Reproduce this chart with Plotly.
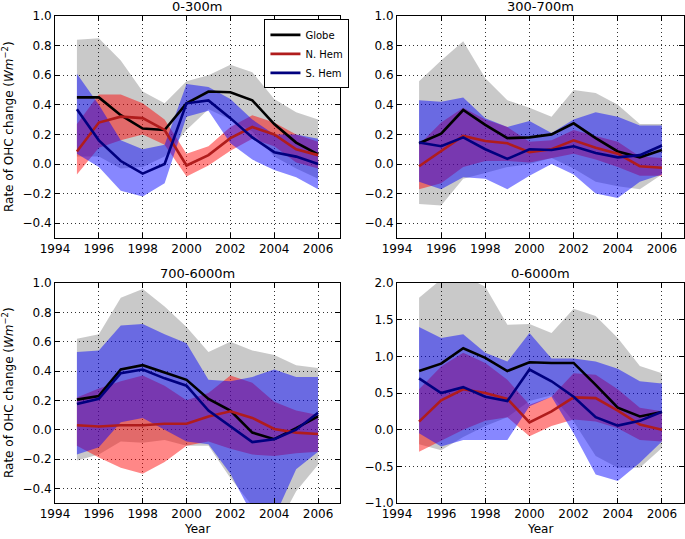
import plotly.graph_objects as go

years = [1995, 1996, 1997, 1998, 1999, 2000, 2001, 2002, 2003, 2004, 2005, 2006]

panel_titles = ["0-300m", "300-700m", "700-6000m", "0-6000m"]
series_names = ["Globe", "N. Hem", "S. Hem"]

# ---- 0-300m ----
p1_globe = [0.45, 0.45, 0.33, 0.24, 0.23, 0.41, 0.49, 0.485, 0.43, 0.27, 0.145, 0.065]
p1_globe_hi = [0.84, 0.85, 0.70, 0.49, 0.41, 0.56, 0.60, 0.67, 0.62, 0.44, 0.35, 0.30]
p1_globe_lo = [0.05, 0.05, -0.03, -0.02, 0.05, 0.23, 0.37, 0.30, 0.22, 0.05, -0.03, -0.10]
p1_nh = [0.085, 0.28, 0.32, 0.31, 0.23, -0.01, 0.06, 0.175, 0.25, 0.20, 0.10, 0.06]
p1_nh_hi = [0.27, 0.47, 0.47, 0.41, 0.30, 0.07, 0.12, 0.25, 0.33, 0.28, 0.20, 0.15]
p1_nh_lo = [-0.07, 0.11, 0.16, 0.20, 0.13, -0.085, -0.01, 0.09, 0.17, 0.12, 0.01, -0.03]
p1_sh = [0.37, 0.16, 0.02, -0.065, 0.0, 0.41, 0.43, 0.31, 0.18, 0.08, 0.05, 0.0]
p1_sh_hi = [0.61, 0.40, 0.16, 0.10, 0.13, 0.54, 0.52, 0.44, 0.30, 0.20, 0.20, 0.17]
p1_sh_lo = [0.07, -0.02, -0.18, -0.22, -0.13, 0.32, 0.36, 0.14, 0.03, -0.04, -0.09, -0.17]

# ---- 300-700m ----
p2_globe = [0.14, 0.205, 0.365, 0.265, 0.175, 0.18, 0.20, 0.275, 0.175, 0.085, 0.045, 0.095]
p2_globe_hi = [0.56, 0.70, 0.83, 0.58, 0.43, 0.38, 0.32, 0.50, 0.48, 0.40, 0.27, 0.27]
p2_globe_lo = [-0.27, -0.28, -0.10, -0.06, -0.02, 0.0, 0.04, -0.03, -0.12, -0.15, -0.17, -0.07]
p2_nh = [-0.015, 0.085, 0.19, 0.155, 0.14, 0.08, 0.10, 0.16, 0.11, 0.07, -0.015, -0.025]
p2_nh_hi = [0.13, 0.28, 0.38, 0.30, 0.25, 0.15, 0.16, 0.23, 0.19, 0.15, 0.05, 0.04]
p2_nh_lo = [-0.17, -0.13, -0.02, 0.02, 0.02, 0.01, 0.04, 0.07, 0.03, -0.02, -0.08, -0.08]
p2_sh = [0.145, 0.12, 0.18, 0.10, 0.035, 0.10, 0.095, 0.12, 0.075, 0.045, 0.06, 0.125]
p2_sh_hi = [0.43, 0.42, 0.45, 0.31, 0.25, 0.29, 0.21, 0.30, 0.35, 0.32, 0.26, 0.26]
p2_sh_lo = [-0.12, -0.17, -0.09, -0.10, -0.17, -0.08, 0.0, -0.07, -0.20, -0.23, -0.12, -0.07]

# ---- 700-6000m ----
p3_globe = [0.205, 0.23, 0.41, 0.44, 0.39, 0.34, 0.21, 0.13, -0.02, -0.065, 0.01, 0.09]
p3_globe_hi = [0.62, 0.65, 0.90, 0.96, 0.84, 0.70, 0.53, 0.60, 0.54, 0.51, 0.44, 0.42]
p3_globe_lo = [-0.21, -0.17, -0.08, -0.09, -0.07, -0.11, -0.11, -0.33, -0.52, -0.70, -0.42, -0.24]
p3_nh = [0.03, 0.022, 0.03, 0.03, 0.04, 0.04, 0.09, 0.125, 0.08, 0.005, -0.02, -0.03]
p3_nh_hi = [0.22, 0.28, 0.33, 0.37, 0.30, 0.20, 0.25, 0.37, 0.32, 0.19, 0.13, 0.10]
p3_nh_lo = [-0.11, -0.19, -0.26, -0.30, -0.22, -0.11, -0.08, -0.13, -0.17, -0.18, -0.16, -0.15]
p3_sh = [0.175, 0.21, 0.385, 0.41, 0.35, 0.30, 0.13, 0.02, -0.085, -0.065, 0.0, 0.115]
p3_sh_hi = [0.53, 0.54, 0.71, 0.72, 0.65, 0.59, 0.34, 0.33, 0.36, 0.41, 0.36, 0.36]
p3_sh_lo = [-0.17, -0.12, 0.05, 0.08, 0.0, -0.08, -0.10, -0.30, -0.58, -0.60, -0.27, -0.15]

# ---- 0-6000m ----
p4_globe = [0.80, 0.90, 1.11, 0.98, 0.80, 0.92, 0.91, 0.91, 0.61, 0.30, 0.18, 0.24]
p4_globe_hi = [1.80, 2.05, 2.10, 1.95, 1.43, 1.44, 1.32, 1.65, 1.55, 1.25, 0.87, 0.77]
p4_globe_lo = [-0.20, -0.28, -0.10, 0.05, 0.17, 0.39, 0.47, 0.11, -0.36, -0.52, -0.52, -0.25]
p4_nh = [0.11, 0.40, 0.55, 0.50, 0.42, 0.10, 0.25, 0.44, 0.43, 0.26, 0.07, 0.0]
p4_nh_hi = [0.55, 0.86, 1.05, 0.91, 0.68, 0.34, 0.45, 0.77, 0.75, 0.55, 0.30, 0.25]
p4_nh_lo = [-0.30, -0.15, 0.0, 0.12, 0.17, -0.09, 0.05, 0.14, 0.11, 0.02, -0.14, -0.16]
p4_sh = [0.70, 0.50, 0.58, 0.45, 0.39, 0.82, 0.66, 0.45, 0.17, 0.055, 0.12, 0.245]
p4_sh_hi = [1.40, 1.25, 1.30, 1.05, 0.93, 1.32, 0.97, 0.97, 0.93, 0.83, 0.66, 0.63]
p4_sh_lo = [-0.05, -0.23, -0.14, -0.14, -0.14, 0.32, 0.45, -0.05, -0.61, -0.70, -0.45, -0.16]

x_ticks = [1994, 1996, 1998, 2000, 2002, 2004, 2006]
y_ticks_small = [-0.4, -0.2, 0.0, 0.2, 0.4, 0.6, 0.8, 1.0]
y_ticks_total = [-1.0, -0.5, 0.0, 0.5, 1.0, 1.5, 2.0]

panels = [
    (p1_globe, p1_globe_lo, p1_globe_hi, p1_nh, p1_nh_lo, p1_nh_hi, p1_sh, p1_sh_lo, p1_sh_hi),
    (p2_globe, p2_globe_lo, p2_globe_hi, p2_nh, p2_nh_lo, p2_nh_hi, p2_sh, p2_sh_lo, p2_sh_hi),
    (p3_globe, p3_globe_lo, p3_globe_hi, p3_nh, p3_nh_lo, p3_nh_hi, p3_sh, p3_sh_lo, p3_sh_hi),
    (p4_globe, p4_globe_lo, p4_globe_hi, p4_nh, p4_nh_lo, p4_nh_hi, p4_sh, p4_sh_lo, p4_sh_hi),
]

fill_colors = ["rgba(0,0,0,0.21)", "rgba(255,0,0,0.47)", "rgba(0,0,255,0.47)"]
line_colors = ["#000000", "#b01c1c", "#00007f"]

FONT = "DejaVu Sans"
fig = go.Figure()

for i, data in enumerate(panels):
    suffix = "" if i == 0 else str(i + 1)
    xa, ya = "x" + suffix, "y" + suffix
    mids = [data[0], data[3], data[6]]
    los = [data[1], data[4], data[7]]
    his = [data[2], data[5], data[8]]
    for k in range(3):
        fig.add_trace(go.Scatter(
            x=years + years[::-1], y=his[k] + los[k][::-1],
            fill="toself", fillcolor=fill_colors[k], mode="lines",
            line=dict(width=0), hoverinfo="skip", showlegend=False,
            xaxis=xa, yaxis=ya))
    for k in range(3):
        fig.add_trace(go.Scatter(
            x=years, y=mids[k], mode="lines",
            line=dict(color=line_colors[k], width=2.6),
            name=series_names[k], showlegend=(i == 0),
            xaxis=xa, yaxis=ya))

x_domains = [[0, 0.4531], [0.5437, 1.0], [0, 0.4531], [0.5437, 1.0]]
y_domains = [[0.5441, 1.0], [0.5441, 1.0], [0, 0.4517], [0, 0.4517]]
y_ranges = [[-0.5, 1.0], [-0.5, 1.0], [-0.5, 1.0], [-1.0, 2.0]]
y_tickvals = [y_ticks_small, y_ticks_small, y_ticks_small, y_ticks_total]

common = dict(showline=True, linecolor="black", linewidth=1, mirror="allticks",
              ticks="inside", ticklen=5, tickcolor="black", showgrid=True,
              gridcolor="#333333", griddash="1px,3px", gridwidth=1, zeroline=False,
              automargin=False,
              tickfont=dict(family=FONT, size=12, color="black"))

layout = dict(
    width=685, height=539, plot_bgcolor="white", paper_bgcolor="white",
    margin=dict(l=55, r=1, t=16, b=36),
    font=dict(family=FONT, size=12, color="black"),
    legend=dict(x=0.333, y=0.993, xanchor="left", yanchor="top",
                bordercolor="black", borderwidth=1, bgcolor="white",
                font=dict(family=FONT, size=10), tracegroupgap=0,
                itemwidth=30),
)
for i in range(4):
    suffix = "" if i == 0 else str(i + 1)
    layout["xaxis" + suffix] = dict(common, domain=x_domains[i], anchor="y" + suffix,
                                   range=[1994, 2007], tickvals=x_ticks,
                                   ticktext=[str(t) for t in x_ticks])
    layout["yaxis" + suffix] = dict(common, domain=y_domains[i], anchor="x" + suffix,
                                   range=y_ranges[i], tickvals=y_tickvals[i],
                                   tickformat=".1f")
fig.update_layout(**layout)

ann = []
for i in range(4):
    suffix = "" if i == 0 else str(i + 1)
    ann.append(dict(text=panel_titles[i], xref="x" + suffix + " domain",
                    yref="y" + suffix + " domain", x=0.5, y=1.0,
                    xanchor="center", yanchor="bottom", yshift=0, showarrow=False,
                    font=dict(family=FONT, size=13)))
for i in (2, 3):
    suffix = str(i + 1)
    ann.append(dict(text="Year", xref="x" + suffix + " domain",
                    yref="y" + suffix + " domain", x=0.5, y=0.0,
                    xanchor="center", yanchor="top", yshift=-17, showarrow=False,
                    font=dict(family=FONT, size=12)))
for i in (0, 2):
    suffix = "" if i == 0 else str(i + 1)
    ann.append(dict(text="Rate of OHC change (<i>Wm</i><sup>\u22122</sup>)",
                    xref="paper", yref="y" + suffix + " domain",
                    x=-0.0747, y=0.5, xanchor="center", yanchor="middle",
                    textangle=-90, showarrow=False,
                    font=dict(family=FONT, size=12)))
fig.update_layout(annotations=ann)

fig.write_html("out.html", config={"displayModeBar": False},
               post_script="document.body.style.margin='0';")
